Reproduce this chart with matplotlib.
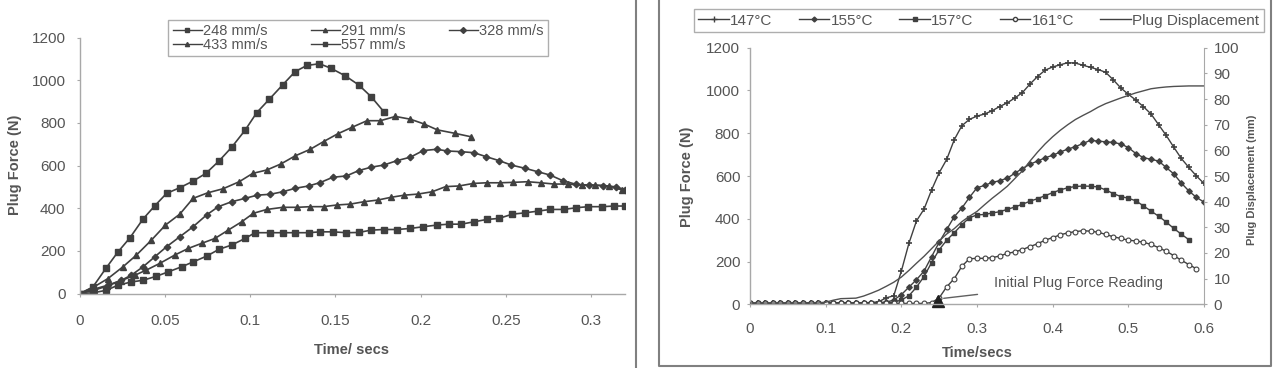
import matplotlib
matplotlib.use("Agg")
import matplotlib.pyplot as plt
from matplotlib.lines import Line2D
import numpy as np

plt.rcParams['font.family'] = ['Liberation Sans', 'DejaVu Sans']

# ---------------- left chart: plug force vs time for plug speeds ----------------
t557 = [0, 0.0075, 0.0154, 0.0222, 0.0293, 0.037, 0.0439, 0.0508, 0.0586, 0.0664, 0.0739, 0.0816,
        0.089, 0.0969, 0.1038, 0.1112, 0.119, 0.1263, 0.1332, 0.1406, 0.1473, 0.1558, 0.1636,
        0.1709, 0.1783]
f557 = [0, 30, 120, 194, 261, 349, 411, 469, 496, 527, 563, 621, 685, 765, 848, 911, 978, 1040,
        1069, 1077, 1056, 1020, 978, 923, 853]

t433 = [0, 0.008, 0.0164, 0.0252, 0.0331, 0.0419, 0.0502, 0.0586, 0.0664, 0.075, 0.084, 0.0935,
        0.1014, 0.1097, 0.1179, 0.1263, 0.1352, 0.143, 0.1512, 0.1597, 0.1685, 0.1764, 0.1852,
        0.194, 0.2019, 0.2098, 0.22, 0.2294]
f433 = [0, 30, 70, 125, 180, 250, 321, 372, 446, 472, 491, 524, 563, 579, 607, 645, 676, 712, 748,
        779, 810, 810, 830, 817, 795, 767, 751, 735]

t328 = [0, 0.008, 0.0164, 0.0243, 0.0301, 0.037, 0.0439, 0.0508, 0.0586, 0.0664, 0.0743, 0.0812,
        0.089, 0.0969, 0.1041, 0.1116, 0.1191, 0.1263, 0.1342, 0.141, 0.1485, 0.1564, 0.1636,
        0.1709, 0.1783, 0.1862, 0.194, 0.2015, 0.2094, 0.2157, 0.2235, 0.2313, 0.2386, 0.246,
        0.2533, 0.2612, 0.2687, 0.2761, 0.2834, 0.2912, 0.299, 0.3068, 0.3146, 0.32]
f328 = [0, 20, 39, 62, 86, 125, 172, 219, 266, 313, 368, 407, 430, 446, 461, 465, 477, 493, 504,
        520, 545, 551, 576, 592, 602, 623, 639, 670, 676, 668, 665, 660, 641, 623, 602, 587, 571,
        555, 529, 512, 508, 506, 500, 487]

t291 = [0, 0.008, 0.016, 0.024, 0.032, 0.039, 0.0468, 0.0556, 0.0635, 0.0714, 0.0792, 0.087,
        0.0949, 0.1018, 0.1097, 0.1191, 0.1277, 0.1352, 0.143, 0.1509, 0.1587, 0.1666, 0.1748,
        0.1827, 0.1905, 0.1984, 0.2068, 0.2147, 0.2225, 0.231, 0.2388, 0.2466, 0.2545, 0.2628,
        0.2706, 0.2784, 0.2863, 0.2946, 0.3024, 0.3108, 0.3183]
f291 = [0, 15, 35, 60, 85, 110, 141, 180, 211, 235, 258, 297, 336, 376, 394, 404, 404, 407, 407,
        415, 419, 430, 438, 451, 461, 466, 477, 501, 504, 516, 519, 519, 521, 524, 519, 513, 513,
        508, 508, 504, 485]

t248 = [0, 0.0075, 0.0154, 0.0223, 0.0301, 0.037, 0.0449, 0.0517, 0.0596, 0.0664, 0.0743, 0.0816,
        0.089, 0.0969, 0.1028, 0.1116, 0.1191, 0.1263, 0.1342, 0.141, 0.1485, 0.1564, 0.1636,
        0.1709, 0.1783, 0.1862, 0.194, 0.2015, 0.2098, 0.2166, 0.2239, 0.2313, 0.2388, 0.246,
        0.2539, 0.2612, 0.2687, 0.2761, 0.284, 0.2912, 0.2985, 0.3063, 0.3138, 0.32]
f248 = [0, 3, 15, 39, 54, 62, 81, 101, 125, 148, 175, 207, 227, 258, 285, 285, 285, 285, 285, 289,
        289, 285, 286, 297, 300, 300, 305, 313, 321, 325, 325, 336, 347, 352, 372, 378, 386, 394,
        394, 402, 407, 407, 410, 410]

left_xticks = [0, 0.05, 0.1, 0.15, 0.2, 0.25, 0.3]
left_xticklabels = ["0", "0.05", "0.1", "0.15", "0.2", "0.25", "0.3"]
force_ticks = [0, 200, 400, 600, 800, 1000, 1200]

# ---------------- right chart: plug force vs time for sheet temperatures ----------------
t_right = np.round(np.arange(0, 0.605, 0.01), 2)
f147 = [5, 5, 4, 5, 6, 5, 5, 6, 7, 8,
        8, 7, 6, 6, 6, 7, 8, 12, 30, 40,
        155, 285, 390, 445, 535, 615, 678, 770, 835, 865,
        880, 890, 905, 925, 942, 965, 990, 1030, 1065, 1095,
        1110, 1120, 1130, 1128, 1118, 1108, 1098, 1085, 1050, 1012,
        982, 955, 924, 890, 840, 790, 735, 682, 640, 600,
        565]
f155 = [5, 5, 5, 5, 5, 5, 5, 5, 5, 5,
        6, 6, 6, 5, 5, 6, 7, 8, 10, 20,
        45, 80, 115, 155, 223, 290, 350, 410, 450, 500,
        545, 556, 570, 578, 590, 613, 635, 655, 670, 685,
        697, 712, 726, 737, 752, 767, 763, 760, 757, 750,
        733, 705, 686, 678, 670, 640, 610, 567, 530, 500,
        478]
f157 = [4, 4, 4, 4, 4, 4, 4, 4, 4, 4,
        5, 5, 5, 5, 5, 5, 5, 6, 8, 10,
        20, 40, 80, 130, 195, 255, 300, 335, 372, 405,
        418, 420, 427, 433, 444, 455, 468, 482, 494, 508,
        522, 535, 545, 551, 553, 552, 549, 535, 518, 504,
        496, 484, 460, 436, 412, 385, 355, 328, 302]
f161 = [4, 4, 4, 4, 4, 4, 4, 4, 4, 4,
        4, 4, 4, 4, 4, 4, 4, 4, 4, 4,
        4, 4, 4, 4, 8, 30, 82, 120, 178, 213,
        215, 215, 218, 226, 238, 245, 256, 270, 283, 300,
        312, 325, 334, 340, 344, 342, 337, 327, 316, 308,
        300, 296, 290, 280, 265, 248, 228, 206, 186, 166]
disp = [0.5, 0.5, 0.5, 0.5, 0.5, 0.5, 0.5, 0.5, 0.5, 0.5,
        0.8, 1.6, 2.2, 2.3, 2.4, 3.2, 4.3, 5.5, 7.0, 8.6,
        10.6, 13.2, 16.0, 18.7, 21.7, 24.7, 27.4, 29.5, 32.2, 34.3,
        36.2, 38.8, 41.3, 43.6, 46.0, 49.0, 52.0, 55.8, 59.3, 62.5,
        65.3, 67.8, 70.0, 72.0, 73.6, 75.1, 76.8, 78.2, 79.3, 80.4,
        81.4, 82.4, 83.2, 84.0, 84.4, 84.7, 84.9, 85.0, 85.1, 85.1,
        85.1]
initial_reading = (0.249, 14)

right_xticks = [0, 0.1, 0.2, 0.3, 0.4, 0.5, 0.6]
right_xticklabels = ["0", "0.1", "0.2", "0.3", "0.4", "0.5", "0.6"]
disp_ticks = [0, 10, 20, 30, 40, 50, 60, 70, 80, 90, 100]

# ---------------- figure ----------------
W, H = 1279, 368
fig = plt.figure(figsize=(W / 100, H / 100), dpi=100)
txt = '#555555'
line = '#404040'
spine = '#a8a8a8'


def box(x0, y_bottom, x1, y_top):
    return [x0 / W, 1 - y_bottom / H, (x1 - x0) / W, (y_bottom - y_top) / H]


def style_axis(ax, xpad, ypad):
    for s in ['top', 'right']:
        ax.spines[s].set_visible(False)
    for s in ['left', 'bottom']:
        ax.spines[s].set_color(spine)
        ax.spines[s].set_linewidth(1.0)
    ax.tick_params(axis='x', direction='out', length=2.5, color=spine, labelsize=11,
                   labelcolor=txt, pad=xpad)
    ax.tick_params(axis='y', direction='out', length=2.5, color=spine, labelsize=11,
                   labelcolor=txt, pad=ypad)


# left chart
ax1 = fig.add_axes(box(80, 293.5, 625, 37.5))
kw = dict(color=line, lw=1.2, mec=line, mfc=line)
h248, = ax1.plot(t248, f248, marker='s', ms=4.2, **kw)
h291, = ax1.plot(t291, f291, marker='^', ms=4.5, **kw)
h328, = ax1.plot(t328, f328, marker='D', ms=3.3, **kw)
h433, = ax1.plot(t433, f433, marker='^', ms=4.5, **kw)
h557, = ax1.plot(t557, f557, marker='s', ms=4.2, **kw)
ax1.set_xlim(0, 0.32)
ax1.set_ylim(0, 1200)
ax1.set_xticks(left_xticks)
ax1.set_xticklabels(left_xticklabels)
ax1.set_yticks(force_ticks)
style_axis(ax1, 12, 8)

lh = [Line2D([], [], color=line, lw=1.0, marker=m, ms=3, mfc=line, mec=line)
      for m in ['s', '^', 'D', '^', 's']]
lab = ['248 mm/s', '291 mm/s', '328 mm/s', '433 mm/s', '557 mm/s']
order = [0, 3, 1, 4, 2]
leg1 = ax1.legend([lh[i] for i in order], [lab[i] for i in order], ncol=3,
                  loc='upper center', bbox_to_anchor=(0.51, 1.07), fontsize=10.5,
                  frameon=True, fancybox=False, handlelength=2.0, handletextpad=0.05,
                  columnspacing=3.0, labelspacing=0.0, borderpad=0.3,
                  borderaxespad=0)
leg1.get_frame().set_edgecolor('#9a9a9a')
leg1.get_frame().set_linewidth(1.0)
for t in leg1.get_texts():
    t.set_color(txt)

fig.text(15 / W, 1 - 165 / H, 'Plug Force (N)', rotation=90, ha='center', va='center',
         fontsize=10.5, fontweight='bold', color=txt)
fig.text(352 / W, 1 - 350 / H, 'Time/ secs', ha='center', va='center',
         fontsize=10.5, fontweight='bold', color=txt)

# right chart
ax2 = fig.add_axes(box(750, 304.3, 1204, 47.7))
kw2 = dict(color=line, lw=1.0, mec=line)
g147, = ax2.plot(t_right[:len(f147)], f147, marker='+', ms=5, mew=1.2, **kw2)
g155, = ax2.plot(t_right[:len(f155)], f155, marker='D', ms=2.8, mfc=line, **kw2)
g157, = ax2.plot(t_right[:len(f157)], f157, marker='s', ms=3.2, mfc=line, **kw2)
g161, = ax2.plot(t_right[:len(f161)], f161, marker='o', ms=3.5, mfc='white', mew=0.8, **kw2)
ax2.plot([initial_reading[0]], [initial_reading[1]], marker='^', ms=8, color='#202020',
         clip_on=False)
ax2.annotate('Initial Plug Force Reading', xy=(0.256, 28), xytext=(0.3225, 101),
             fontsize=10.5, color=txt, va='center', ha='left',
             arrowprops=dict(arrowstyle='-', color='#606060', lw=1.0, shrinkA=12, shrinkB=0))
ax2.set_xlim(0, 0.6)
ax2.set_ylim(0, 1200)
ax2.set_xticks(right_xticks)
ax2.set_xticklabels(right_xticklabels)
ax2.set_yticks(force_ticks)
style_axis(ax2, 10, 4.5)

ax3 = ax2.twinx()
g_disp, = ax3.plot(t_right, disp, color='#505050', lw=1.0)
ax3.set_ylim(0, 100)
ax3.set_yticks(disp_ticks)
for s in ['top', 'left', 'bottom']:
    ax3.spines[s].set_visible(False)
ax3.spines['right'].set_color(spine)
ax3.tick_params(axis='y', direction='out', length=2.5, color=spine, labelsize=11,
                labelcolor=txt, pad=4.5)

rh = [Line2D([], [], color=line, lw=1.0, marker='+', ms=4, mew=1.0),
      Line2D([], [], color=line, lw=1.0, marker='D', ms=2.5, mfc=line, mec=line),
      Line2D([], [], color=line, lw=1.0, marker='s', ms=3, mfc=line, mec=line),
      Line2D([], [], color=line, lw=1.0, marker='o', ms=3, mfc='white', mec=line),
      Line2D([], [], color=line, lw=1.0)]
leg2 = ax2.legend(rh, ['147°C', '155°C', '157°C', '161°C', 'Plug Displacement'], ncol=5,
                  loc='upper center', bbox_to_anchor=(0.504, 1.151), fontsize=11,
                  frameon=True, fancybox=False, handlelength=2.0, handletextpad=0.1,
                  columnspacing=1.7, borderpad=0.3, borderaxespad=0)
leg2.get_frame().set_edgecolor('#9a9a9a')
leg2.get_frame().set_linewidth(1.0)
for t in leg2.get_texts():
    t.set_color(txt)

fig.text(687 / W, 1 - 177 / H, 'Plug Force (N)', rotation=90, ha='center', va='center',
         fontsize=10.5, fontweight='bold', color=txt)
fig.text(977 / W, 1 - 353 / H, 'Time/secs', ha='center', va='center',
         fontsize=10.5, fontweight='bold', color=txt)
fig.text(1252 / W, 1 - 180 / H, 'Plug Displacement (mm)', rotation=90, ha='center',
         va='center', fontsize=8, fontweight='bold', color=txt)

# panel borders
frame = '#808080'
fig.add_artist(Line2D([636 / W, 636 / W], [0, 1], color=frame, lw=1.5))
fig.add_artist(Line2D([659 / W, 659 / W, 1271 / W, 1271 / W],
                      [1, 1 - 366 / H, 1 - 366 / H, 1], color=frame, lw=1.5))

fig.savefig('out.png', dpi=100)
